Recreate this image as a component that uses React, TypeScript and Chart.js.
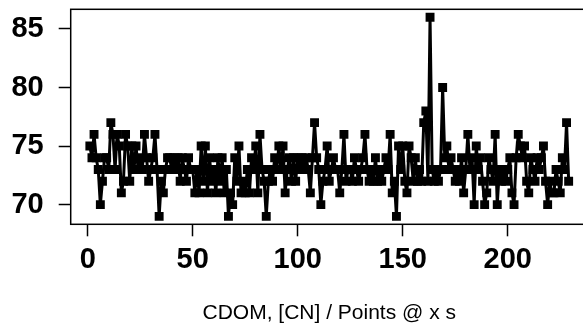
import React, { useEffect, useRef } from "react";
import { Chart, registerables } from "chart.js";

Chart.register(...registerables);

// CDOM readings, one per point (points 1..229)
const cdomValues: number[] = [
  75, 74, 76, 74, 73, 70, 72, 74, 74, 73,
  77, 76, 73, 76, 75, 71, 72, 76, 75, 72,
  75, 73, 75, 73, 74, 73, 76, 74, 72, 73,
  74, 76, 73, 69, 72, 71, 73, 74, 74, 73,
  74, 73, 74, 72, 74, 73, 72, 74, 73, 73,
  71, 73, 71, 75, 72, 75, 71, 74, 72, 73,
  71, 74, 72, 74, 71, 73, 69, 71, 70, 74,
  72, 75, 71, 72, 71, 73, 71, 74, 73, 75,
  71, 76, 73, 72, 69, 72, 73, 72, 74, 73,
  75, 73, 75, 71, 73, 74, 72, 74, 72, 74,
  73, 74, 73, 74, 73, 71, 74, 77, 74, 73,
  70, 72, 73, 75, 72, 73, 74, 73, 73, 71,
  73, 76, 72, 73, 73, 72, 74, 73, 72, 73,
  74, 76, 73, 72, 73, 72, 74, 72, 73, 72,
  73, 74, 73, 76, 71, 72, 69, 75, 73, 75,
  72, 71, 75, 74, 72, 74, 72, 73, 72, 77,
  78, 72, 86, 73, 72, 73, 72, 73, 80, 74,
  75, 73, 74, 73, 72, 73, 72, 74, 71, 73,
  76, 73, 74, 70, 75, 73, 74, 72, 70, 71,
  74, 73, 72, 76, 70, 73, 72, 73, 72, 73,
  74, 71, 70, 74, 76, 75, 74, 75, 72, 71,
  74, 73, 72, 74, 73, 74, 75, 72, 70, 72,
  71, 71, 73, 72, 71, 74, 73, 77, 72,
];

const xTickValues: number[] = [0, 50, 100, 150, 200];
const yTickValues: number[] = [70, 75, 80, 85];
const xTitle = "CDOM, [CN] / Points @ x s";

const FONT = "'Liberation Sans', Arial, Helvetica, sans-serif";

const boxPlugin = {
  id: "plotBox",
  afterDraw(chart: any) {
    const { ctx, chartArea: a } = chart;
    ctx.save();
    ctx.strokeStyle = "#000";
    ctx.lineWidth = 1.5;
    ctx.strokeRect(a.left, a.top, a.right - a.left, a.bottom - a.top);
    ctx.restore();
  },
};

export default function App() {
  const canvasRef = useRef<HTMLCanvasElement | null>(null);

  useEffect(() => {
    if (!canvasRef.current) return;
    const points = cdomValues.map((v, i) => ({ x: i + 1, y: v }));
    const chart = new Chart(canvasRef.current, {
      type: "line",
      data: {
        datasets: [
          {
            data: points,
            borderColor: "#000",
            backgroundColor: "#000",
            borderWidth: 3,
            borderJoinStyle: "round",
            borderCapStyle: "round",
            pointStyle: "rect",
            pointRadius: 6.3,
            pointBorderWidth: 0,
            pointBackgroundColor: "#000",
            tension: 0,
            fill: false,
          },
        ],
      },
      options: {
        animation: false,
        responsive: false,
        devicePixelRatio: 1,
        layout: { padding: { left: 0, top: 9.3, right: 12.2, bottom: 0 } },
        plugins: {
          legend: { display: false },
          tooltip: { enabled: false },
        },
        scales: {
          x: {
            type: "linear",
            min: -8.12,
            max: 238.12,
            afterBuildTicks: (s: any) => {
              s.ticks = xTickValues.map((v) => ({ value: v }));
            },
            afterFit: (s: any) => {
              s.height = 99.7;
              s.paddingLeft = 0;
              s.paddingRight = 0;
              s.paddingTop = 0;
              s.paddingBottom = 0;
            },
            border: { display: false },
            grid: {
              display: true,
              drawOnChartArea: false,
              drawTicks: true,
              tickLength: 12,
              tickWidth: 1.5,
              tickColor: "#000",
            },
            ticks: {
              color: "#000",
              padding: 6,
              maxRotation: 0,
              autoSkip: false,
              font: { family: FONT, size: 29, weight: "bold" },
            },
            title: {
              display: true,
              text: xTitle,
              color: "#000",
              padding: 0,
              font: { family: FONT, size: 21, lineHeight: 1 },
            },
          },
          y: {
            type: "linear",
            min: 68.32,
            max: 86.68,
            afterBuildTicks: (s: any) => {
              s.ticks = yTickValues.map((v) => ({ value: v }));
            },
            afterFit: (s: any) => {
              s.width = 70.7;
              s.paddingLeft = 0;
              s.paddingRight = 0;
              s.paddingTop = 0;
              s.paddingBottom = 0;
            },
            border: { display: false },
            grid: {
              display: true,
              drawOnChartArea: false,
              drawTicks: true,
              tickLength: 12,
              tickWidth: 1.5,
              tickColor: "#000",
            },
            ticks: {
              color: "#000",
              padding: 15,
              autoSkip: false,
              font: { family: FONT, size: 29, weight: "bold" },
            },
          },
        },
      },
      plugins: [boxPlugin],
    } as any);
    return () => chart.destroy();
  }, []);

  return (
    <div
      style={{
        position: "fixed",
        left: 0,
        top: 0,
        width: 583,
        height: 324,
        overflow: "hidden",
        background: "#fff",
      }}
    >
      <canvas
        ref={canvasRef}
        width={600}
        height={324}
        style={{ width: 600, height: 324, display: "block" }}
      />
    </div>
  );
}
